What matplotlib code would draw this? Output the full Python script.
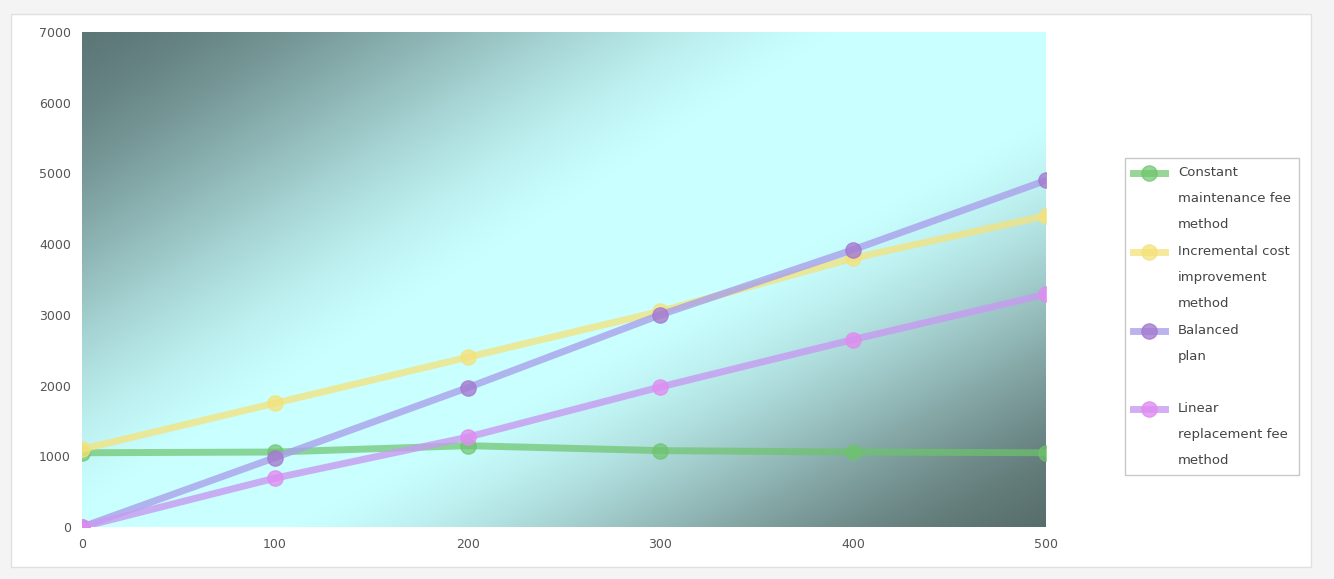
import numpy as np
import matplotlib
matplotlib.use("Agg")
import matplotlib.pyplot as plt
from matplotlib.colors import to_rgb
from matplotlib.legend_handler import HandlerLine2D

x_vals = [0, 100, 200, 300, 400, 500]
x_labels = ["0", "100", "200", "300", "400", "500"]
y_ticks = [0, 1000, 2000, 3000, 4000, 5000, 6000, 7000]

series_names = ["Constant\nmaintenance fee\nmethod", "Incremental cost\nimprovement\nmethod",
                "Balanced\nplan\n ", "Linear\nreplacement fee\nmethod"]
green_vals = [1050, 1060, 1150, 1080, 1060, 1050]
yellow_vals = [1100, 1750, 2400, 3050, 3800, 4400]
purple_vals = [0, 980, 1970, 3000, 3920, 4900]
pink_vals = [0, 690, 1270, 1980, 2650, 3290]

fig = plt.figure(figsize=(13.34, 5.79), dpi=100)
fig.patch.set_facecolor("#f4f4f4")
frame = plt.Rectangle((0.008, 0.02), 0.975, 0.955, transform=fig.transFigure,
                      facecolor="white", edgecolor="#e0e0e0", lw=1, zorder=-10)
fig.patches.append(frame)

ax = fig.add_axes([0.0615, 0.0898, 0.7225, 0.855])

# background: light cyan with darkened top-left and bottom-right corners
gx, gy = np.meshgrid(np.linspace(0, 1, 480), np.linspace(0, 1, 250))  # gy from top
s1 = np.clip(1 - (gx / 0.78 + gy / 0.96), 0, 1)
s2 = np.clip(1 - ((1 - gx) / 0.78 + (1 - gy) / 0.82), 0, 1)
d1 = s1 * s1 * (3 - 2 * s1) * 0.6 + s1 * 0.4
d2 = s2 * s2 * (3 - 2 * s2) * 0.6 + s2 * 0.4
light = np.array(to_rgb("#c9ffff"))
dark1 = np.array(to_rgb("#5c7676"))
dark2 = np.array(to_rgb("#586e6c"))
img = (light[None, None, :] * (1 - d1 - d2)[..., None]
       + dark1[None, None, :] * d1[..., None] + dark2[None, None, :] * d2[..., None])
img = np.clip(img, 0, 1)
ax.imshow(img, extent=[0, 500, 0, 7000], aspect="auto", zorder=0,
          interpolation="bilinear", origin="upper")

l1, = ax.plot(x_vals, green_vals, color="#6cc46c", lw=5, alpha=0.7, marker="o",
              markersize=11, label=series_names[0], zorder=2)
l2, = ax.plot(x_vals, yellow_vals, color="#f5e27a", lw=5, alpha=0.75, marker="o",
              markersize=11, label=series_names[1], zorder=3)
l3, = ax.plot(x_vals, purple_vals, color="#a9a0ea", lw=5, alpha=0.8, marker="o",
              markersize=11, markerfacecolor="#a57ad0", markeredgecolor="#a57ad0",
              label=series_names[2], zorder=4)
l4, = ax.plot(x_vals, pink_vals, color="#c79af0", lw=5, alpha=0.8, marker="o",
              markersize=11, markerfacecolor="#e08cf0", markeredgecolor="#e08cf0",
              label=series_names[3], zorder=5)

ax.set_xlim(0, 500)
ax.set_ylim(0, 7000)
ax.set_xticks(x_vals)
ax.set_xticklabels(x_labels)
ax.set_yticks(y_ticks)
ax.set_yticklabels([str(v) for v in y_ticks])
ax.tick_params(colors="#555555", labelsize=9, length=0, pad=8)
for s in ax.spines.values():
    s.set_visible(False)

FS = 9.5
LS = 2.3
line_pt = 26 * 72 / 100.0


class TopHandler(HandlerLine2D):
    def __init__(self, shift, **kw):
        super().__init__(**kw)
        self.shift = shift

    def create_artists(self, legend, orig_handle, xdescent, ydescent, width,
                       height, fontsize, trans):
        arts = super().create_artists(legend, orig_handle, xdescent, ydescent,
                                      width, height, fontsize, trans)
        for a in arts:
            a.set_ydata(np.asarray(a.get_ydata(), dtype=float) + self.shift)
        return arts


hmap = {}
for ln, name in zip([l1, l2, l3, l4], series_names):
    n = name.count("\n") + 1
    hmap[ln] = TopHandler((n - 1) / 2.0 * line_pt)

leg = ax.legend(handles=[l1, l2, l3, l4], handler_map=hmap, loc="upper left",
                bbox_to_anchor=(1125 / 1334, 1 - 158 / 579),
                bbox_transform=fig.transFigure, frameon=True,
                fontsize=FS, labelspacing=1.05, handlelength=2.4, borderpad=0.6,
                handletextpad=1.0, fancybox=False, edgecolor="#bbbbbb",
                borderaxespad=0)
leg.get_frame().set_linewidth(1)
for txt in leg.get_texts():
    txt.set_color("#444444")
    txt.set_linespacing(LS)

fig.savefig("out.png", dpi=100, facecolor=fig.get_facecolor())
